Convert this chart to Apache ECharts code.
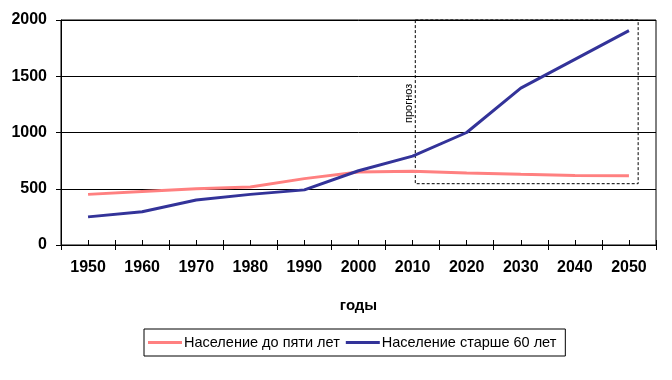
<!DOCTYPE html>
<html><head><meta charset="utf-8">
<script src="https://cdn.jsdelivr.net/npm/echarts@6/dist/echarts.min.js"></script>
<style>html,body{margin:0;padding:0;background:#fff}#c{width:672px;height:380px}</style>
</head><body><div id="c"></div>
<script>
var years = ['1950','1960','1970','1980','1990','2000','2010','2020','2030','2040','2050'];
var under5 = [450, 475, 500, 515, 590, 648, 655, 640, 628, 618, 615];
var over60 = [250, 295, 400, 450, 490, 660, 790, 1000, 1395, 1650, 1905];
var yTicks = [0, 500, 1000, 1500, 2000];
var forecastBox = [[2010.5, 2027], [2051.7, 545]];
var forecastLabel = 'прогноз';
var seriesNames = ['Население до пяти лет', 'Население старше 60 лет'];

var FONT = 'Arial, "Liberation Sans", sans-serif';
var chart = echarts.init(document.getElementById('c'), null, {renderer: 'canvas'});
var option = {
  animation: false,
  backgroundColor: '#fff',
  textStyle: {fontFamily: FONT},
  grid: {left: 61, right: 16, top: 20, bottom: 135, show: true, borderColor: '#000', borderWidth: 1, backgroundColor: 'transparent'},
  legend: {
    data: seriesNames, left: 144, top: 329, orient: 'horizontal',
    padding: [6, 9, 6, 4], borderColor: '#000', borderWidth: 1,
    icon: 'rect', itemWidth: 34, itemHeight: 3, itemGap: 6,
    textStyle: {fontFamily: FONT, fontSize: 14.5, color: '#000', padding: [0, 0, 0, -3]}
  },
  xAxis: [
    {type: 'category', data: years, boundaryGap: true, position: 'bottom',
     axisLine: {show: true, lineStyle: {color: '#000', width: 1}},
     axisTick: {show: true, alignWithLabel: false, inside: false, length: 5, lineStyle: {color: '#000'}},
     axisLabel: {fontFamily: FONT, fontSize: 16, fontWeight: 'bold', color: '#000', margin: 15},
     name: 'годы', nameLocation: 'middle', nameGap: 53,
     nameTextStyle: {fontFamily: FONT, fontSize: 15, fontWeight: 'bold', color: '#000'},
     splitLine: {show: false}},
    {type: 'value', min: 1945, max: 2055, show: false, position: 'bottom'},
    {type: 'category', data: years, boundaryGap: true, position: 'bottom',
     axisLine: {show: false}, axisLabel: {show: false},
     axisTick: {show: true, alignWithLabel: false, inside: true, length: 5, lineStyle: {color: '#000'}}},
    {type: 'category', data: years, boundaryGap: true, position: 'bottom',
     axisLine: {show: false}, axisLabel: {show: false},
     axisTick: {show: true, alignWithLabel: true, inside: true, length: 5, lineStyle: {color: '#000'}}}
  ],
  yAxis: {
    type: 'value', min: yTicks[0], max: yTicks[yTicks.length - 1], interval: yTicks[1] - yTicks[0],
    axisLine: {show: true, lineStyle: {color: '#000', width: 1}},
    axisTick: {show: true, inside: false, length: 5, lineStyle: {color: '#000'}},
    axisLabel: {fontFamily: FONT, fontSize: 16, fontWeight: 'bold', color: '#000', margin: 14,
      formatter: function (v) { return String(v); }},
    splitLine: {show: true, lineStyle: {color: '#000', width: 1}}
  },
  series: [
    {name: seriesNames[0], type: 'line', data: under5, xAxisIndex: 0, showSymbol: false, symbol: 'none',
     lineStyle: {color: '#ff8080', width: 3}, itemStyle: {color: '#ff8080'}, z: 3},
    {name: seriesNames[1], type: 'line', data: over60, xAxisIndex: 0, showSymbol: false, symbol: 'none',
     lineStyle: {color: '#333399', width: 3}, itemStyle: {color: '#333399'}, z: 4},
    {name: 'forecast', type: 'line', data: [], xAxisIndex: 1, silent: true, clip: false,
     markArea: {silent: true,
       itemStyle: {color: 'rgba(0,0,0,0)', borderColor: '#000', borderWidth: 1, borderType: [3, 2]},
       label: {show: false},
       data: [[{coord: forecastBox[0]}, {coord: forecastBox[1]}]]}}
  ]
};
chart.setOption(option);
var p = chart.convertToPixel({xAxisIndex: 1, yAxisIndex: 0}, [forecastBox[0][0], (forecastBox[0][1] + forecastBox[1][1]) / 2]);
chart.setOption({graphic: [{type: 'text', x: p[0] - 6, y: p[1] + 3, rotation: Math.PI / 2,
  style: {text: forecastLabel, fontFamily: FONT, fontSize: 11, fill: '#000', align: 'center', verticalAlign: 'middle'}}]});
</script></body></html>
